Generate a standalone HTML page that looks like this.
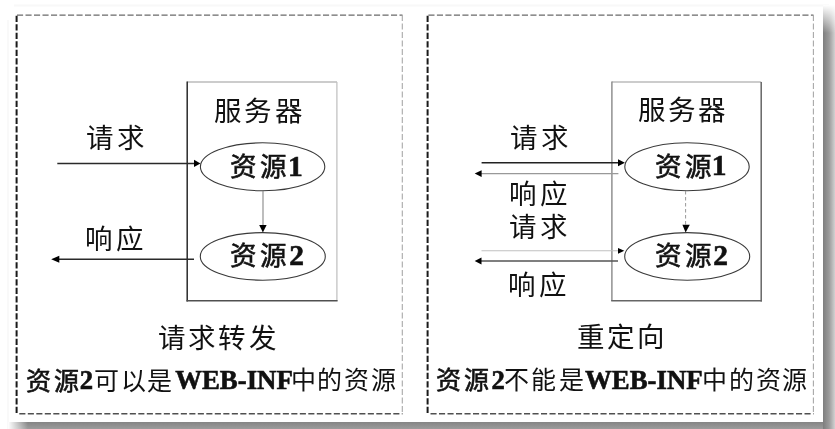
<!DOCTYPE html>
<html lang="zh-CN">
<head>
<meta charset="utf-8">
<style>
html,body{margin:0;padding:0;}
body{width:835px;height:429px;position:relative;overflow:hidden;background:#fff;font-family:"Liberation Serif",serif;color:#111;}
.t{position:absolute;white-space:nowrap;line-height:1;}
.lat{font-family:"Liberation Serif",serif;}
svg{position:absolute;left:0;top:0;}
</style>
</head>
<body>
<div id="wrap" style="position:absolute;left:0;top:0;width:835px;height:429px;filter:blur(0.45px);">
<svg width="835" height="429" viewBox="0 0 835 429">
  <defs>
    <linearGradient id="rs" x1="0" y1="0" x2="1" y2="0">
      <stop offset="0" stop-color="#7e7e7e"/>
      <stop offset="0.5" stop-color="#9a9a9a"/>
      <stop offset="1" stop-color="#d2d2d2"/>
    </linearGradient>
    <linearGradient id="rsm" x1="0" y1="0" x2="0" y2="1">
      <stop offset="0" stop-color="#fff" stop-opacity="1"/>
      <stop offset="1" stop-color="#fff" stop-opacity="0"/>
    </linearGradient>
    <linearGradient id="bs" x1="0" y1="0" x2="0" y2="1">
      <stop offset="0" stop-color="#848484"/>
      <stop offset="1" stop-color="#9c9c9c"/>
    </linearGradient>
    <linearGradient id="bsm" x1="0" y1="0" x2="1" y2="0">
      <stop offset="0" stop-color="#fff" stop-opacity="1"/>
      <stop offset="1" stop-color="#fff" stop-opacity="0"/>
    </linearGradient>
  </defs>
  <!-- faint page edges -->
  <line x1="14" y1="5.5" x2="829" y2="5.5" stroke="#f8f8f8" stroke-width="2"/>
  <line x1="8" y1="20" x2="8" y2="429" stroke="#f9f9f9" stroke-width="2"/>
  <!-- shadows -->
  <rect x="823" y="5" width="12" height="424" fill="url(#rs)"/>
  <rect x="823" y="5" width="12" height="28" fill="url(#rsm)"/>
  <rect x="8" y="422" width="815" height="7" fill="url(#bs)"/>
  <rect x="8" y="422" width="20" height="7" fill="url(#bsm)"/>
  <!-- dashed panels -->
  <g fill="none" stroke-dasharray="6.1 2.4">
    <line x1="17" y1="15.1" x2="402.5" y2="15.1" stroke="#6a6a6a" stroke-width="1.4"/>
    <line x1="19.3" y1="413.8" x2="402.5" y2="413.8" stroke="#505050" stroke-width="1.5"/>
    <line x1="16.6" y1="15.8" x2="16.6" y2="414" stroke="#1a1a1a" stroke-width="2"/>
    <line x1="402.3" y1="15" x2="402.3" y2="414" stroke="#a8a8a8" stroke-width="1.1"/>
    <line x1="428.4" y1="15.1" x2="813.5" y2="15.1" stroke="#6a6a6a" stroke-width="1.4"/>
    <line x1="430.5" y1="413.8" x2="813.5" y2="413.8" stroke="#505050" stroke-width="1.5"/>
    <line x1="427.6" y1="15.8" x2="427.6" y2="414" stroke="#1a1a1a" stroke-width="2"/>
    <line x1="813.4" y1="15" x2="813.4" y2="414" stroke="#a8a8a8" stroke-width="1.1"/>
  </g>
  <!-- left diagram -->
  <g fill="none">
    <line x1="187.2" y1="82" x2="337" y2="82" stroke="#bbb" stroke-width="1.3"/>
    <line x1="336.9" y1="82" x2="336.9" y2="300.8" stroke="#c2c2c2" stroke-width="1.3"/>
    <line x1="187.2" y1="81.4" x2="187.2" y2="301.5" stroke="#2a2a2a" stroke-width="1.5"/>
    <line x1="186.5" y1="300.8" x2="337.6" y2="300.8" stroke="#505050" stroke-width="1.5"/>
    <ellipse cx="262.6" cy="166.8" rx="62.2" ry="24" stroke="#3a3a3a" stroke-width="1.1"/>
    <ellipse cx="262.8" cy="256.4" rx="62.5" ry="23.8" stroke="#3a3a3a" stroke-width="1.1"/>
    <line x1="57.3" y1="163.4" x2="195" y2="163.4" stroke="#2a2a2a" stroke-width="1.5"/>
    <line x1="58" y1="259.3" x2="194" y2="259.3" stroke="#2a2a2a" stroke-width="1.5"/>
    <line x1="263" y1="191" x2="263" y2="226" stroke="#888" stroke-width="1.1"/>
  </g>
  <g fill="#000">
    <polygon points="200.5,163.4 194,159.8 194,167"/>
    <polygon points="51.2,259.3 59.3,255.8 59.3,262.8"/>
    <polygon points="262.9,232.5 259.2,225 266.6,225"/>
  </g>
  <!-- right diagram -->
  <g fill="none">
    <line x1="611.9" y1="82" x2="761.2" y2="82" stroke="#bbb" stroke-width="1.3"/>
    <line x1="611.9" y1="81.4" x2="611.9" y2="301" stroke="#888" stroke-width="1.4"/>
    <line x1="761.2" y1="82" x2="761.2" y2="301.5" stroke="#666" stroke-width="1.5"/>
    <line x1="611.2" y1="300.8" x2="762" y2="300.8" stroke="#666" stroke-width="1.5"/>
    <ellipse cx="687" cy="166.8" rx="62.2" ry="24" stroke="#3a3a3a" stroke-width="1.1"/>
    <ellipse cx="687.2" cy="256.4" rx="62.5" ry="23.8" stroke="#3a3a3a" stroke-width="1.1"/>
    <line x1="481.6" y1="162.8" x2="619" y2="162.8" stroke="#222" stroke-width="1.5"/>
    <line x1="481" y1="173.6" x2="618.4" y2="173.6" stroke="#999" stroke-width="1.1"/>
    <line x1="481.5" y1="250.8" x2="619" y2="250.8" stroke="#c0c0c0" stroke-width="1.1"/>
    <line x1="481" y1="261" x2="618" y2="261" stroke="#555" stroke-width="1.4"/>
    <line x1="685.6" y1="191" x2="685.6" y2="225" stroke="#999" stroke-width="1" stroke-dasharray="3.5 2.5"/>
  </g>
  <g fill="#000">
    <polygon points="624.9,162.8 618,159.3 618,166.3"/>
    <polygon points="474.7,173.6 481.6,170.3 481.6,176.9"/>
    <polygon points="624.3,250.8 618,247.9 618,253.8"/>
    <polygon points="474.7,261 481.5,257.6 481.5,264.6"/>
    <polygon points="685.6,232.5 682.4,224.8 689.8,224.8"/>
  </g>
</svg>

<div class="t" style="left:214.20px;top:98.00px;font-size:27.50px;letter-spacing:3.30px;">服务器</div>
<div class="t" style="left:86.20px;top:124.80px;font-size:27.50px;letter-spacing:4.20px;">请求</div>
<div class="t" style="left:85.20px;top:225.80px;font-size:27.50px;letter-spacing:4.20px;">响应</div>
<div class="t" style="left:230.00px;top:153.50px;font-size:26.50px;letter-spacing:4.30px;-webkit-text-stroke:0.6px #111;">资源</div>
<div class="t" style="left:287.97px;top:151.64px;font-size:29.50px;letter-spacing:0.00px;font-weight:bold;-webkit-text-stroke:0.6px #111;">1</div>
<div class="t" style="left:230.00px;top:243.00px;font-size:26.50px;letter-spacing:4.30px;-webkit-text-stroke:0.6px #111;">资源</div>
<div class="t" style="left:289.27px;top:240.72px;font-size:29.50px;letter-spacing:0.00px;font-weight:bold;-webkit-text-stroke:0.6px #111;">2</div>
<div class="t" style="left:158.20px;top:325.00px;font-size:27.50px;letter-spacing:3.13px;">请求转发</div>
<div class="t" style="left:26.00px;top:368.50px;font-size:25.00px;letter-spacing:3.10px;-webkit-text-stroke:0.6px #111;">资源</div>
<div class="t" style="left:79.81px;top:367.23px;font-size:26.70px;letter-spacing:0.00px;font-weight:bold;-webkit-text-stroke:0.6px #111;">2</div>
<div class="t" style="left:94.00px;top:368.50px;font-size:25.00px;letter-spacing:1.50px;">可以是</div>
<div class="t" style="left:175.20px;top:367.32px;font-size:26.80px;letter-spacing:0.00px;font-weight:bold;-webkit-text-stroke:0.6px #111;">WEB-INF</div>
<div class="t" style="left:290.50px;top:368.00px;font-size:25.00px;letter-spacing:1.77px;">中的资源</div>
<div class="t" style="left:637.80px;top:96.80px;font-size:27.50px;letter-spacing:3.30px;">服务器</div>
<div class="t" style="left:509.60px;top:125.00px;font-size:27.50px;letter-spacing:4.20px;">请求</div>
<div class="t" style="left:508.60px;top:181.00px;font-size:27.50px;letter-spacing:4.20px;">响应</div>
<div class="t" style="left:508.60px;top:214.20px;font-size:27.50px;letter-spacing:4.20px;">请求</div>
<div class="t" style="left:507.80px;top:272.00px;font-size:27.50px;letter-spacing:4.20px;">响应</div>
<div class="t" style="left:655.00px;top:153.50px;font-size:26.50px;letter-spacing:4.30px;-webkit-text-stroke:0.6px #111;">资源</div>
<div class="t" style="left:711.71px;top:150.97px;font-size:29.50px;letter-spacing:0.00px;font-weight:bold;-webkit-text-stroke:0.6px #111;">1</div>
<div class="t" style="left:655.00px;top:243.00px;font-size:26.50px;letter-spacing:4.30px;-webkit-text-stroke:0.6px #111;">资源</div>
<div class="t" style="left:713.14px;top:240.72px;font-size:29.50px;letter-spacing:0.00px;font-weight:bold;-webkit-text-stroke:0.6px #111;">2</div>
<div class="t" style="left:577.20px;top:324.00px;font-size:27.50px;letter-spacing:2.70px;">重定向</div>
<div class="t" style="left:436.00px;top:368.00px;font-size:25.00px;letter-spacing:3.10px;-webkit-text-stroke:0.6px #111;">资源</div>
<div class="t" style="left:491.59px;top:367.23px;font-size:26.70px;letter-spacing:0.00px;font-weight:bold;-webkit-text-stroke:0.6px #111;">2</div>
<div class="t" style="left:504.00px;top:368.00px;font-size:25.00px;letter-spacing:2.40px;">不能是</div>
<div class="t" style="left:585.00px;top:367.39px;font-size:26.80px;letter-spacing:0.00px;font-weight:bold;-webkit-text-stroke:0.6px #111;">WEB-INF</div>
<div class="t" style="left:702.00px;top:368.00px;font-size:25.00px;letter-spacing:1.77px;">中的资源</div>
</div>
</body>
</html>
